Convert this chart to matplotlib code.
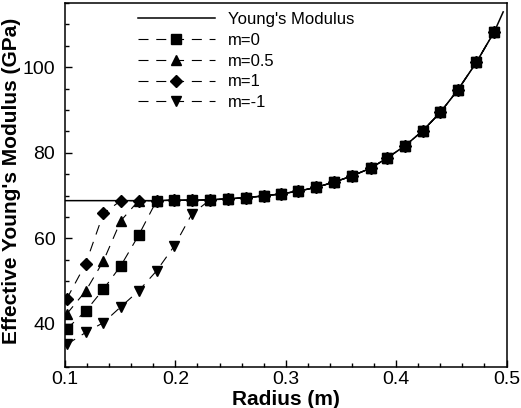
import matplotlib
matplotlib.use("Agg")
import matplotlib.pyplot as plt
from matplotlib.ticker import MultipleLocator, FormatStrFormatter

# radius of the sample points (m)
r = [0.1015, 0.1188, 0.1348, 0.1506, 0.1667, 0.1830, 0.1990, 0.2150, 0.2315,
     0.2476, 0.2636, 0.2800, 0.2961, 0.3112, 0.3273, 0.3436, 0.3603, 0.3770,
     0.3915, 0.4080, 0.4240, 0.4400, 0.4560, 0.4727, 0.4890]

# shared curve (all series sit on it once they have merged)
common = [68.8, 68.8, 68.8, 68.8, 68.8, 68.8, 68.9, 68.9, 69.0, 69.2, 69.5,
          69.9, 70.4, 71.0, 71.9, 73.1, 74.6, 76.4, 78.7, 81.6, 85.1, 89.4,
          94.7, 101.1, 108.3]

# Young's modulus reference line
r_E = [0.1] + r[1:] + [0.497]
E = [68.8] + common[1:] + [112.9]

# start of each series before it joins the reference curve
m0_start = [38.8, 43.0, 48.1, 53.6, 60.7]
m05_start = [42.3, 47.7, 54.7, 64.1]
m1_start = [45.8, 54.1, 65.8]
mm1_start = [35.2, 38.0, 40.3, 44.0, 47.7, 52.4, 58.2, 65.7]

series = [
    ("m=0", m0_start, "s", 7),
    ("m=0.5", m05_start, "^", 6.5),
    ("m=1", m1_start, "D", 6),
    ("m=-1", mm1_start, "v", 6.5),
]

plt.rcParams["font.family"] = ["Liberation Sans", "DejaVu Sans"]

fig = plt.figure(figsize=(5.21, 4.08), dpi=100)
ax = fig.add_axes([65 / 521, 1 - 366.7 / 408, 441.5 / 521, 363.8 / 408])

ax.plot(r_E, E, color="black", lw=1.1, label="Young's Modulus")
for name, start, mk, ms in series:
    y = start + common[len(start):]
    ax.plot(r, y, color="black", lw=0.8, dashes=(9, 7), marker=mk,
            markersize=ms, label=name)

ax.set_xlim(0.1, 0.5)
ax.set_ylim(30, 115)
ax.set_xticks([0.1, 0.2, 0.3, 0.4, 0.5])
ax.set_yticks([40, 60, 80, 100])
ax.xaxis.set_minor_locator(MultipleLocator(0.02))
ax.yaxis.set_minor_locator(MultipleLocator(5))
ax.xaxis.set_major_formatter(FormatStrFormatter("%.1f"))
ax.tick_params(which="both", direction="in", width=1, top=False, right=False,
               labelsize=14)
ax.tick_params(which="major", length=5)
ax.tick_params(which="minor", length=3)
ax.tick_params(axis="x", pad=3)
ax.tick_params(axis="y", pad=7)
for s in ax.spines.values():
    s.set_linewidth(1.1)

ax.set_xlabel("Radius (m)", fontsize=15, fontweight="bold")
ax.set_ylabel("Effective Young's Modulus (GPa)", fontsize=15, fontweight="bold")
ax.xaxis.set_label_coords(0.5, -0.064)
ax.yaxis.set_label_coords(-0.10, 0.51)

ax.legend(loc="upper left", bbox_to_anchor=(0.165, 0.975), frameon=False,
          fontsize=12, handlelength=4.6, handletextpad=0.8, labelspacing=0.35,
          borderpad=0, borderaxespad=0, numpoints=1)

fig.savefig("out.png", dpi=100)
